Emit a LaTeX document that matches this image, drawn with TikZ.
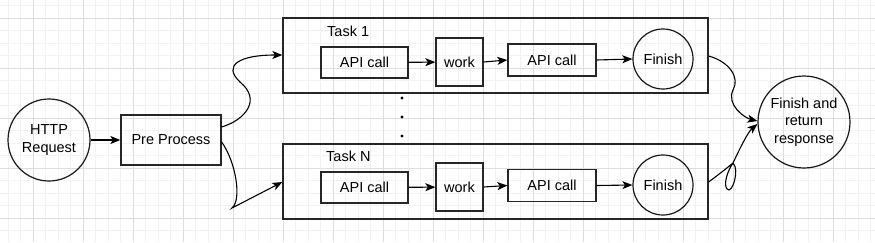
\documentclass[tikz,border=0pt]{standalone}
\usepackage{fontspec}
\setmainfont{Liberation Sans}
\usetikzlibrary{arrows.meta}
\begin{document}
\begin{tikzpicture}[x=1pt,y=-1pt,
  font=\fontsize{14.5}{17.5}\selectfont,
  box/.style={draw=black!85,line width=1.3pt,inner sep=0pt},
  circ/.style={draw=black!90,line width=1.2pt,circle,inner sep=0pt,align=center},
  arr/.style={line width=1.1pt,-{Stealth[length=10pt,width=8pt,inset=2.5pt]}},
  lbl/.style={inner sep=0pt,anchor=west}]
\useasboundingbox (0,0) rectangle (875,242);
\fill[white] (0,0) rectangle (875,242);
% grid
\foreach \i in {0,...,70} {\draw[black!5,line width=0.6pt] (-4.5+12.5*\i,0) -- (-4.5+12.5*\i,242);}
\foreach \i in {0,...,20} {\draw[black!5,line width=0.6pt] (0,5.5+12.5*\i) -- (875,5.5+12.5*\i);}
\foreach \i in {0,...,17} {\draw[black!13,line width=0.7pt] (33+50*\i,0) -- (33+50*\i,242);}
\foreach \i in {0,...,4} {\draw[black!13,line width=0.7pt] (0,18+50*\i) -- (875,18+50*\i);}
% nodes
\node[circ,minimum size=82pt] (http) at (49,140) {HTTP\\Request};
\node[box,minimum width=100pt,minimum height=50pt] (pre) at (171,140) {Pre Process};
\node[box,minimum width=425pt,minimum height=75pt] (t1) at (495.5,55.5) {};
\node[box,minimum width=425pt,minimum height=75pt] (tn) at (495.5,181.5) {};
\node[lbl] (t1l) at (327,31) {Task 1};
\node[lbl] (tnl) at (326,156) {Task N};
% task 1 content
\node[box,minimum width=87pt,minimum height=31pt] (a1) at (364.5,62.5) {API call};
\node[box,minimum width=47pt,minimum height=48pt] (w1) at (459.5,62) {work};
\node[box,minimum width=88pt,minimum height=32pt] (b1) at (552,60) {API call};
\node[circ,minimum size=60pt] (f1) at (663,59) {Finish};
% task N content
\node[box,minimum width=87pt,minimum height=31pt] (a2) at (364.5,187.5) {API call};
\node[box,minimum width=47pt,minimum height=48pt] (w2) at (459.5,187) {work};
\node[box,minimum width=88pt,minimum height=32pt] (b2) at (552,185.5) {API call};
\node[circ,minimum size=60pt] (f2) at (663,185) {Finish};
% final
\node[circ,minimum size=92pt] (fin) at (804,122) {Finish and\\return\\response};
% dots
\foreach \y [count=\k] in {98,117,136} {\fill (402,\y) circle (1.6pt);}
% arrows
\draw[arr] (http) -- (pre);
\draw[arr] (a1) -- (w1);
\draw[arr] (w1.east) -- (b1.west);
\draw[arr] (b1.east) -- (f1.west);
\draw[arr] (a2) -- (w2);
\draw[arr] (w2.east) -- (b2.west);
\draw[arr] (b2.east) -- (f2.west);
\draw[arr] (pre.east|-0,127) .. controls (245,120) and (262,100) .. (240,82)
  .. controls (222,65) and (240,55) .. (t1.west|-0,55);
\draw[arr] (pre.east|-0,142) .. controls (236,162) and (242,200) .. (232,208)
  -- (tn.west|-0,182);
\draw[arr] (t1.east|-0,56) .. controls (730,62) and (740,78) .. (733,90)
  .. controls (726,105) and (745,118) .. (fin.west|-0,121);
\draw[line width=1.1pt] (tn.east|-0,182) .. controls (718,175) and (727,168) .. (733,163)
  .. controls (740,170) and (732,195) .. (727,189)
  .. controls (723,184) and (728,170) .. (733,163);
\draw[arr] (733,163) .. controls (740,148) and (748,132) .. (fin.west|-0,124);
\end{tikzpicture}
\end{document}
